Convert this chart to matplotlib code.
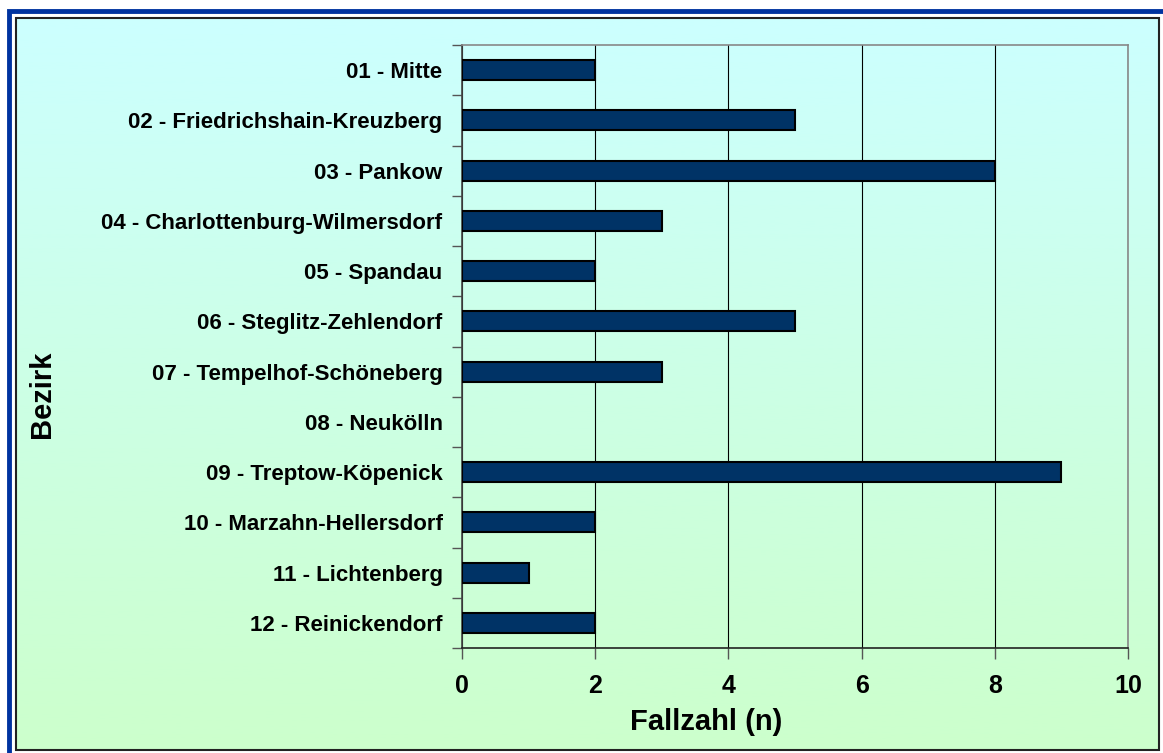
import numpy as np
import matplotlib.pyplot as plt
from matplotlib.patches import Rectangle

bezirke = ["01 - Mitte", "02 - Friedrichshain-Kreuzberg", "03 - Pankow",
           "04 - Charlottenburg-Wilmersdorf", "05 - Spandau",
           "06 - Steglitz-Zehlendorf", "07 - Tempelhof-Schöneberg",
           "08 - Neukölln", "09 - Treptow-Köpenick", "10 - Marzahn-Hellersdorf",
           "11 - Lichtenberg", "12 - Reinickendorf"]
fallzahl = [2, 5, 8, 3, 2, 5, 3, 0, 9, 2, 1, 2]
xticks = [0, 2, 4, 6, 8, 10]

plt.rcParams['font.family'] = ['Liberation Sans', 'DejaVu Sans']
plt.rcParams['font.weight'] = 'bold'

W, H = 1163, 753
fig = plt.figure(figsize=(W / 100, H / 100), dpi=100)
fig.patch.set_facecolor('white')

# gradient background inside the inner frame
bg = fig.add_axes([16 / W, 1 - 750 / H, (1159 - 16) / W, (750 - 18) / H], zorder=-2)
grad = np.linspace(0, 1, 256)[:, None]
top = np.array([204, 255, 255]) / 255
bot = np.array([204, 255, 204]) / 255
img = top[None, None, :] * (1 - grad[..., None]) + bot[None, None, :] * grad[..., None]
bg.imshow(img, aspect='auto', extent=[0, 1, 0, 1])
bg.set_axis_off()

# frames
fig.patches.append(Rectangle((16 / W, 1 - 750 / H), (1159 - 16) / W, (750 - 18) / H,
                             transform=fig.transFigure, fill=False,
                             edgecolor='#222222', lw=1.5, zorder=5))
fig.patches.append(Rectangle((9 / W, -0.05), 1.2, 1 - 11 / H + 0.05,
                             transform=fig.transFigure, fill=False,
                             edgecolor='#0033a0', lw=3.5, zorder=5))

ax = fig.add_axes([462 / W, 1 - 648 / H, (1128 - 462) / W, (648 - 45) / H])
ax.patch.set_alpha(0)

y = np.arange(len(bezirke))
edge_w = [1.5 if v > 0 else 0 for v in fallzahl]
ax.barh(y, fallzahl, height=0.4, color='#003366', edgecolor='black',
        linewidth=edge_w, zorder=3)
ax.set_ylim(len(bezirke) - 0.5, -0.5)
ax.set_xlim(0, 10)

ax.set_xticks(xticks)
ax.set_xticklabels([str(v) for v in xticks], fontsize=18, fontweight='bold')
ax.tick_params(axis='x', length=8, width=1, color='#555555', pad=11)
ax.set_yticks(y)
ax.set_yticklabels(bezirke, fontsize=16, fontweight='bold')
ax.tick_params(axis='y', length=0, pad=14)
ax.set_yticks(np.arange(-0.5, len(bezirke)), minor=True)
ax.tick_params(axis='y', which='minor', length=7, width=1, color='#555555')

ax.grid(axis='x', color='black', lw=0.8, zorder=1)
ax.spines['top'].set_color('#888888')
ax.spines['right'].set_color('#888888')
ax.spines['left'].set_color('#444444')
ax.spines['bottom'].set_color('#222222')
for s in ax.spines.values():
    s.set_linewidth(1.2)

fig.text(706 / W, 1 - 722 / H, "Fallzahl (n)", fontsize=21, fontweight='bold',
         ha='center', va='center')
fig.text(42 / W, 1 - 394 / H, "Bezirk", rotation=90, fontsize=21,
         fontweight='bold', ha='center', va='center')

fig.savefig("out.png", dpi=100)
